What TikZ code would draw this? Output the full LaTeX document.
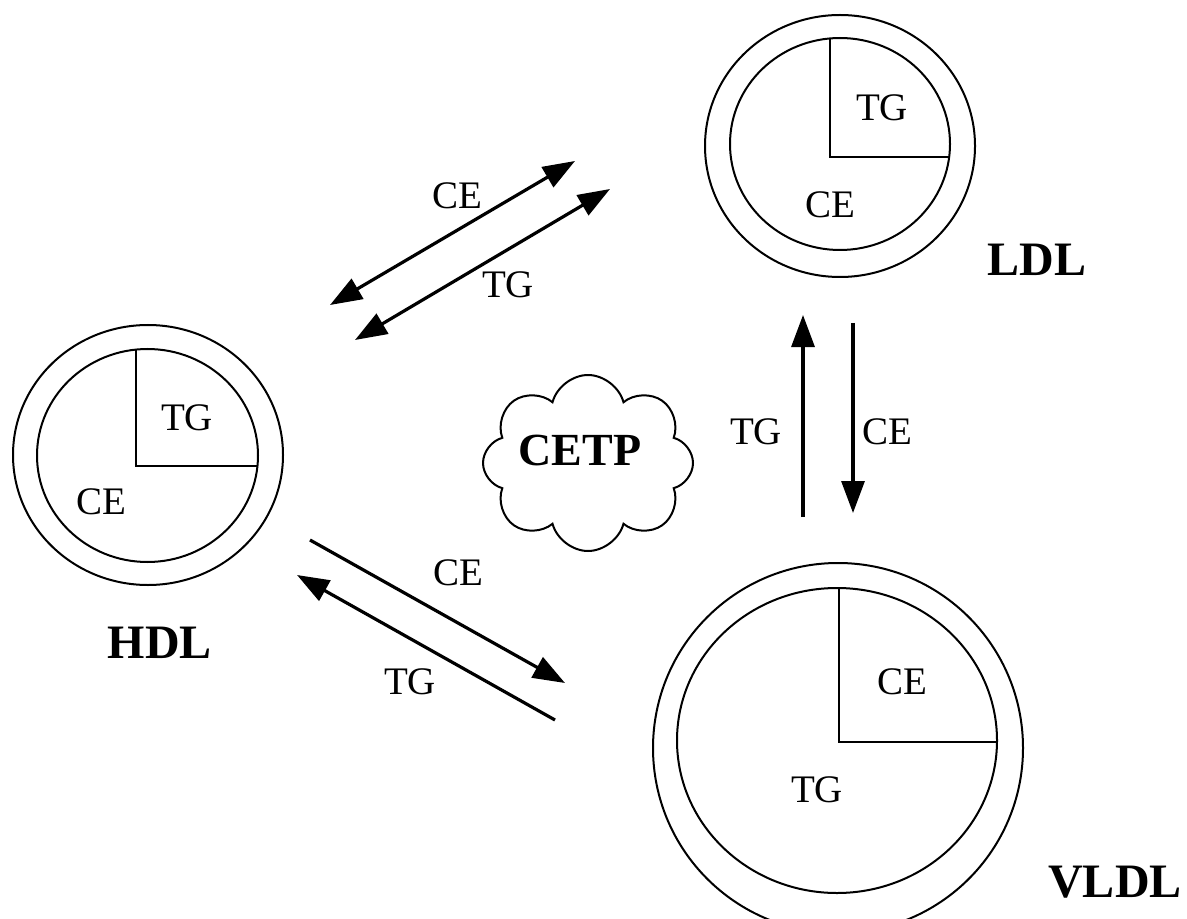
\documentclass[tikz,border=0pt]{standalone}
\usepackage{fontspec}
\setmainfont{Liberation Serif}
\usetikzlibrary{arrows.meta,shapes.geometric,shapes.symbols}
\begin{document}
\begin{tikzpicture}[x=0.5pt,y=-0.5pt,
  ring/.style={draw,ellipse,inner sep=0pt,line width=1pt},
  quarter/.style={line width=1pt},
  lab/.style={font=\fontsize{19.5}{20}\selectfont,inner sep=0pt},
  big/.style={font=\fontsize{24}{26}\selectfont\bfseries,inner sep=0pt},
  tri/.tip={Triangle[length=16pt,width=11.5pt]},
  arr/.style={line width=1.6pt,-tri},
  darr/.style={line width=1.6pt,tri-tri}]
\useasboundingbox (0,0) rectangle (1187,919);

% LDL
\node[ring,minimum width=135pt,minimum height=131pt] (ldlout) at (840,146) {};
\node[ring,minimum width=110pt,minimum height=106pt] (ldlin) at (840,144) {};
\coordinate (ldlc) at (830,157);
\coordinate (ldlt) at (830,38);
\coordinate (ldlr) at (950,157);
\draw[quarter] (ldlt) -- (ldlc) -- (ldlr);
\node[lab] (ldltg) at (882,108) {TG};
\node[lab] (ldlce) at (830,205) {CE};
\node[big] (ldllab) at (1037,260) {LDL};

% HDL
\node[ring,minimum width=135pt,minimum height=130pt] (hdlout) at (148,455) {};
\node[ring,minimum width=110.5pt,minimum height=106.5pt] (hdlin) at (147.5,455.5) {};
\coordinate (hdlc) at (136,466);
\coordinate (hdlt) at (136,349.5);
\coordinate (hdlr) at (258,466);
\draw[quarter] (hdlt) -- (hdlc) -- (hdlr);
\node[lab] (hdltg) at (187,418) {TG};
\node[lab] (hdlce) at (101,502) {CE};
\node[big] (hdllab) at (160,643) {HDL};

% VLDL
\node[ring,minimum width=185pt,minimum height=185pt] (vldlout) at (838,748) {};
\node[ring,minimum width=160pt,minimum height=152.5pt] (vldlin) at (837,740.5) {};
\coordinate (vldlc) at (839,742);
\coordinate (vldlt) at (839,588.5);
\coordinate (vldlr) at (997,742);
\draw[quarter] (vldlt) -- (vldlc) -- (vldlr);
\node[lab] (vldlce) at (902,682) {CE};
\node[lab] (vldltg) at (817,790) {TG};
\node[big] (vldllab) at (1115,882) {VLDL};

% CETP cloud
\node[cloud,draw,cloud puffs=8,cloud puff arc=150,cloud ignores aspect,minimum width=105pt,minimum height=88pt,line width=1pt] (cloud) at (588,463) {};
\node[font=\fontsize{23}{25}\selectfont\bfseries,inner sep=0pt] (cetp) at (580,450) {CETP};

% HDL <-> LDL
\coordinate (a1s) at (330,305);
\coordinate (a1e) at (575,161);
\coordinate (a2s) at (355,340);
\coordinate (a2e) at (610,189);
\draw[darr] (a1s) -- (a1e);
\draw[darr] (a2s) -- (a2e);
\node[lab] (a1lab) at (457,196) {CE};
\node[lab] (a2lab) at (508,285) {TG};

% HDL <-> VLDL
\coordinate (a3s) at (310,540);
\coordinate (a3e) at (565,683);
\coordinate (a4s) at (555,720);
\coordinate (a4e) at (297,575);
\draw[arr] (a3s) -- (a3e);
\draw[arr] (a4s) -- (a4e);
\node[lab] (a3lab) at (458,573) {CE};
\node[lab] (a4lab) at (410,682) {TG};

% VLDL <-> LDL
\coordinate (a5s) at (803,517);
\coordinate (a5e) at (803,315);
\coordinate (a6s) at (853,323);
\coordinate (a6e) at (853,513);
\draw[arr] (a5s) -- (a5e);
\draw[arr] (a6s) -- (a6e);
\node[lab] (a5lab) at (756,432) {TG};
\node[lab] (a6lab) at (887,432) {CE};
\end{tikzpicture}
\end{document}
